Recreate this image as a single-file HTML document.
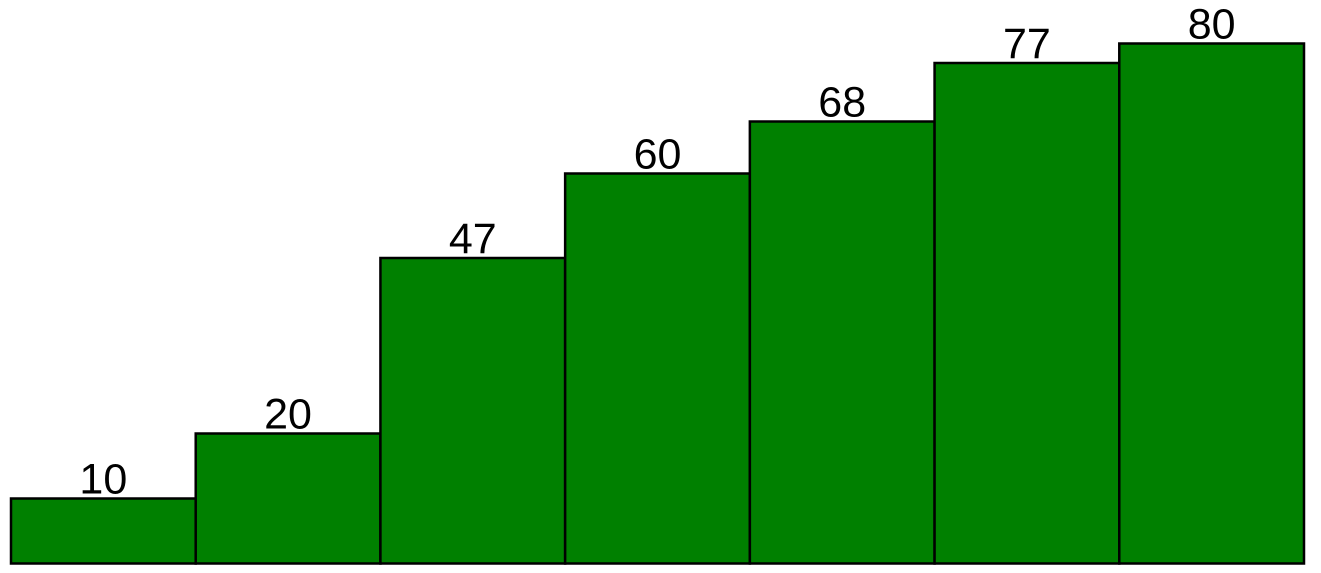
<!DOCTYPE html>
<html>
<head>
<meta charset="utf-8">
<style>
  html, body { margin: 0; padding: 0; background: #ffffff; }
  svg { display: block; }
  text { font-family: "Liberation Sans", sans-serif; }
</style>
</head>
<body>
<svg id="chart" width="1321" height="573" viewBox="0 0 1321 573" xmlns="http://www.w3.org/2000/svg"></svg>
<script>
const categories = ["a", "b", "c", "d", "e", "f", "g"];
const values = [10, 20, 47, 60, 68, 77, 80];
const valueLabels = ["10", "20", "47", "60", "68", "77", "80"];

const svg = document.getElementById('chart');
const NS = 'http://www.w3.org/2000/svg';
const left = 11, right = 1304, baseY = 563.5, pxPerUnit = 6.5;
const bw = (right - left) / categories.length;
function xScale(i) { return left + i * bw; }
function yScale(v) { return baseY - v * pxPerUnit; }

categories.forEach((c, i) => {
  const x = xScale(i), y = yScale(values[i]);
  const r = document.createElementNS(NS, 'rect');
  r.setAttribute('x', x);
  r.setAttribute('y', y);
  r.setAttribute('width', bw);
  r.setAttribute('height', baseY - y);
  r.setAttribute('fill', '#008000');
  r.setAttribute('stroke', '#000');
  r.setAttribute('stroke-width', '2.5');
  
  
  svg.appendChild(r);

  const t = document.createElementNS(NS, 'text');
  t.setAttribute('x', x + bw / 2);
  t.setAttribute('y', y - 5);
  t.setAttribute('text-anchor', 'middle');
  t.setAttribute('font-size', '43');
  t.setAttribute('fill', '#000');
  t.textContent = valueLabels[i];
  
  
  svg.appendChild(t);
});
</script>
</body>
</html>
